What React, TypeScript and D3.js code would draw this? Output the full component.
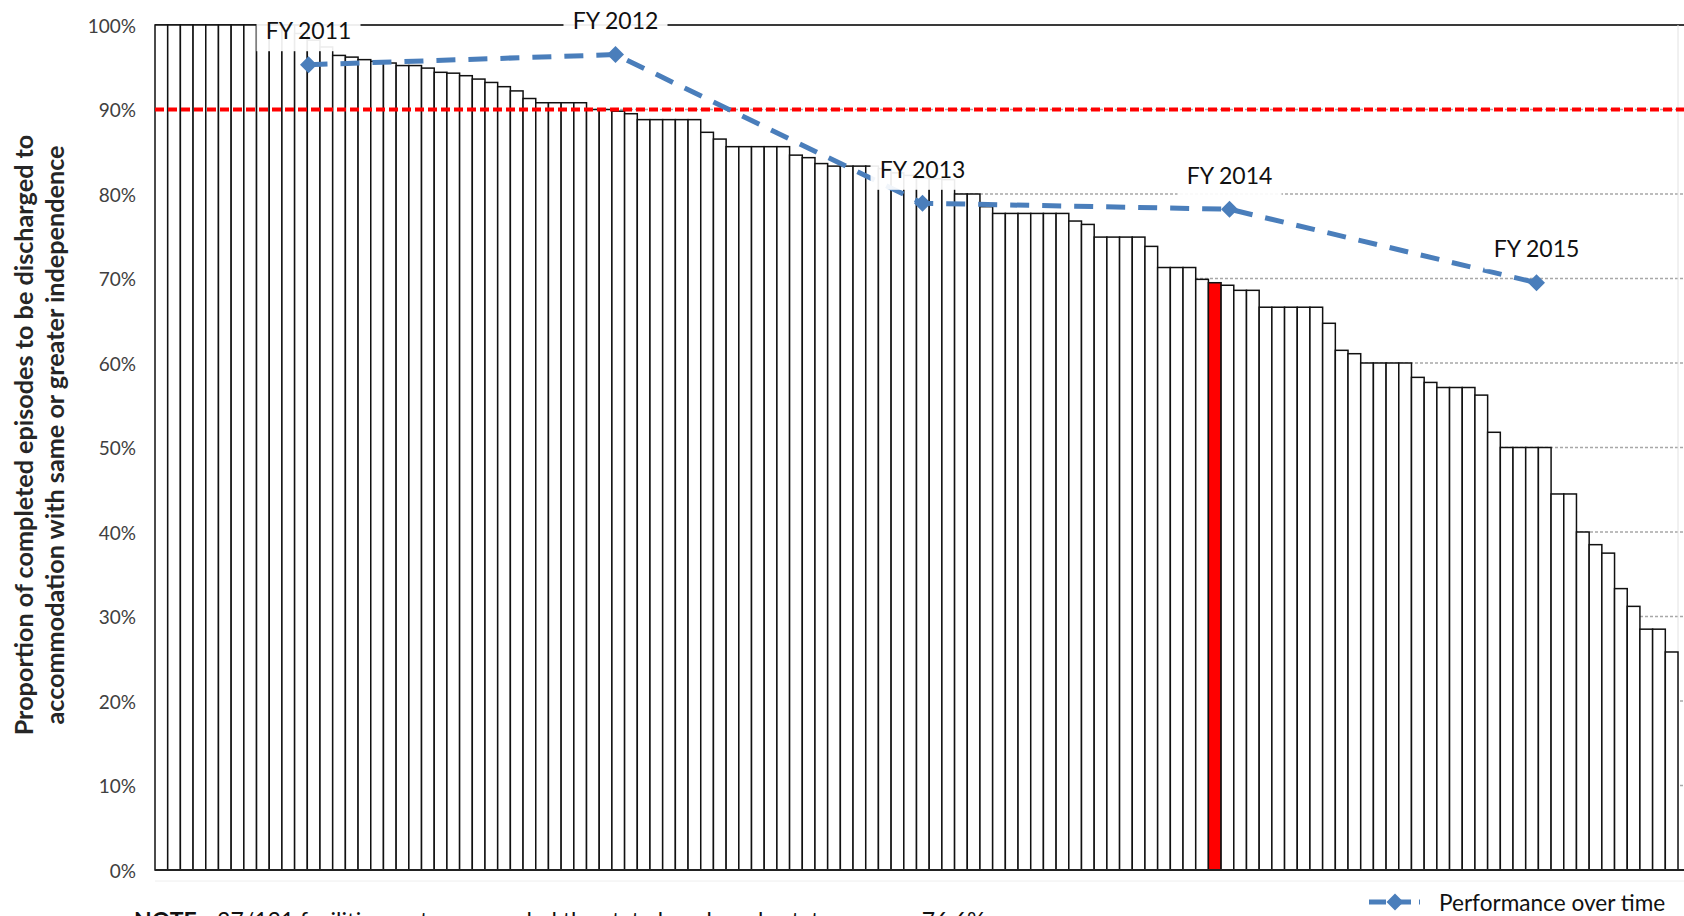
import React from "react";
import * as d3 from "d3";

// ---------- data ----------
const facilityRates: number[] = [
  100, 100, 100, 100, 100, 100, 100, 100, 100, 100,
  100, 99.0, 98.2, 97.4, 96.4, 96.2, 95.9, 95.7, 95.5, 95.2,
  95.2, 94.9, 94.4, 94.3, 94.0, 93.6, 93.2, 92.7, 92.2, 91.3,
  90.8, 90.8, 90.8, 90.8, 90.0, 90.0, 89.8, 89.5, 88.8, 88.8,
  88.8, 88.8, 88.8, 87.3, 86.5, 85.6, 85.6, 85.6, 85.6, 85.6,
  84.6, 84.3, 83.6, 83.3, 83.3, 83.3, 83.3, 83.0, 82.5, 82.2,
  81.9, 81.8, 81.7, 80.0, 80.0, 78.5, 77.7, 77.7, 77.7, 77.7,
  77.7, 77.7, 76.8, 76.4, 74.9, 74.9, 74.9, 74.9, 73.8, 71.3,
  71.3, 71.3, 69.9, 69.5, 69.2, 68.6, 68.6, 66.6, 66.6, 66.6,
  66.6, 66.6, 64.7, 61.5, 61.1, 60.0, 60.0, 60.0, 60.0, 58.3,
  57.7, 57.1, 57.1, 57.1, 56.2, 51.8, 50.0, 50.0, 50.0, 50.0,
  44.5, 44.5, 40.0, 38.5, 37.5, 33.3, 31.2, 28.5, 28.5, 25.8,
];
const highlightIndex = 83;
const targetRate = 90;

const years: string[] = ["FY 2011", "FY 2012", "FY 2013", "FY 2014", "FY 2015"];
const performance: number[] = [95.3, 96.5, 78.9, 78.2, 69.5];

const yTicks: number[] = [0, 10, 20, 30, 40, 50, 60, 70, 80, 90, 100];
const yTitleLines: string[] = [
  "Proportion of completed episodes to be discharged to",
  "accommodation with same or greater independence",
];
const legendLabel = "Performance over time";
const noteBold = "NOTE";
const noteRest = " - 37/131 facilities met or exceeded the state benchmark; state average 76.6%";

// ---------- layout ----------
const W = 1684;
const H = 916;
const plotLeft = 155;
const plotTop = 25;
const plotBottom = 870;
const barsRight = 1678;
const yearsRight = 1690;
const FONT = "Lato, 'Open Sans', sans-serif";
const BLUE = "#4A7EBB";

export default function App() {
  const x = d3
    .scaleBand<number>()
    .domain(d3.range(facilityRates.length))
    .range([plotLeft, barsRight])
    .padding(0);
  const xYear = d3.scaleBand<string>().domain(years).range([plotLeft, yearsRight]).padding(0);
  const y = d3.scaleLinear().domain([0, 100]).range([plotBottom, plotTop]);

  const linePts: [number, number][] = performance.map((v, i) => [
    (xYear(years[i]) as number) + xYear.bandwidth() / 2,
    y(v),
  ]);
  const linePath = d3.line()(linePts) as string;
  const diamond = d3.symbol().type(d3.symbolSquare).size(145)() as string;

  const boxW = 104;
  const boxH = 42;
  const labelOffset = 34.5;

  return (
    <svg
      width={W}
      height={H}
      style={{ position: "absolute", left: 0, top: 0, background: "#fff" }}
      fontFamily={FONT}
    >
      {/* gridlines */}
      {yTicks
        .filter((t) => t > 0 && t < 100)
        .map((t) => (
          <line
            key={"g" + t}
            x1={plotLeft}
            x2={W}
            y1={y(t)}
            y2={y(t)}
            stroke="#a8a8a8"
            strokeWidth={1.4}
            strokeDasharray="3,2"
          />
        ))}
      <line x1={plotLeft} x2={W} y1={y(100)} y2={y(100)} stroke="#3a3a3a" strokeWidth={2} />
      <line x1={barsRight} x2={barsRight} y1={y(100)} y2={y(0)} stroke="#e2e2e2" strokeWidth={1} />

      {/* y tick labels */}
      {yTicks.map((t) => (
        <text
          key={"t" + t}
          x={136}
          y={y(t)}
          textAnchor="end"
          dominantBaseline="central"
          fontSize={19}
          fill="#404040"
        >
          {t + "%"}
        </text>
      ))}

      {/* y title */}
      {yTitleLines.map((line, i) => (
        <text
          key={"yt" + i}
          transform={`translate(${[23, 54][i]},435) rotate(-90)`}
          textAnchor="middle"
          dominantBaseline="central"
          fontSize={25.2}
          fontWeight="bold"
          fill="#262626"
        >
          {line}
        </text>
      ))}

      {/* bars */}
      {facilityRates.map((v, i) => (
        <rect
          key={"b" + i}
          x={x(i) as number}
          y={y(v)}
          width={x.bandwidth()}
          height={y(0) - y(v)}
          fill={i === highlightIndex ? "#FF0000" : "#fff"}
          stroke="#111"
          strokeWidth={1.5}
        />
      ))}

      {/* baseline */}
      <line x1={plotLeft} x2={W} y1={y(0)} y2={y(0)} stroke="#222" strokeWidth={2} />
      <line x1={plotLeft} x2={W} y1={y(0) + 11} y2={y(0) + 11} stroke="#eeeeee" strokeWidth={1} />

      {/* target line */}
      <line
        x1={plotLeft}
        x2={W}
        y1={y(targetRate)}
        y2={y(targetRate)}
        stroke="#FF0000"
        strokeWidth={4}
        strokeDasharray="9,4"
      />

      {/* performance over time */}
      <path d={linePath} fill="none" stroke={BLUE} strokeWidth={5} strokeDasharray="19,13" />
      {linePts.map((p, i) => (
        <path key={"d" + i} d={diamond} transform={`translate(${p[0]},${p[1]}) rotate(45)`} fill={BLUE} />
      ))}

      {/* labels */}
      {linePts.map((p, i) => (
        <g key={"l" + i}>
          <rect
            x={p[0] - boxW / 2}
            y={p[1] - labelOffset - boxH / 2}
            width={boxW}
            height={boxH}
            fill="#fff"
            fillOpacity={0.92}
          />
          <text
            x={p[0]}
            y={p[1] - labelOffset}
            textAnchor="middle"
            dominantBaseline="central"
            fontSize={23}
            fill="#111"
          >
            {years[i]}
          </text>
        </g>
      ))}

      {/* legend */}
      <g transform="translate(1369,902)">
        <line x1={0} x2={51} y1={0} y2={0} stroke={BLUE} strokeWidth={5} strokeDasharray="17,8" />
        <path d={diamond} transform="translate(26,0) rotate(45)" fill={BLUE} />
        <text x={70} y={0} dominantBaseline="central" fontSize={22.6} fill="#111">
          {legendLabel}
        </text>
      </g>

      {/* note (cut off at the bottom of the picture, as in the reference) */}
      <text x={134} y={929} fontSize={23} fill="#111">
        <tspan fontWeight="bold">{noteBold}</tspan>
        {noteRest}
      </text>
    </svg>
  );
}
